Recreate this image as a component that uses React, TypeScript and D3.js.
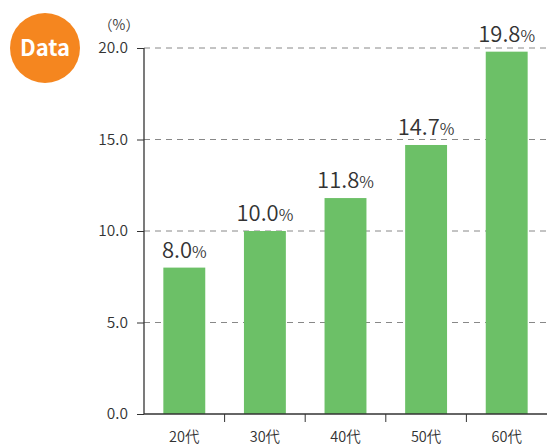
import React, { useRef, useEffect } from "react";
import * as d3 from "d3";

const categories = ["20代", "30代", "40代", "50代", "60代"];
const values = [8.0, 10.0, 11.8, 14.7, 19.8];
const yTicks = [0, 5, 10, 15, 20];

const barColor = "#6cc067";
const textColor = "#333";
const font = "'Noto Sans CJK JP', 'Noto Sans', sans-serif";
const weight = 350;

const App: React.FC = () => {
  const ref = useRef<SVGSVGElement | null>(null);

  useEffect(() => {
    if (!ref.current) return;
    const width = 547;
    const height = 448;
    const margin = { left: 144, right: 0, top: 48, bottom: 34 };

    const svg = d3.select(ref.current);
    svg.selectAll("*").remove();

    const x = d3
      .scaleBand<string>()
      .domain(categories)
      .range([margin.left, width - margin.right])
      .paddingInner(0.48)
      .paddingOuter(0.24);
    const y = d3.scaleLinear().domain([0, 20]).range([height - margin.bottom, margin.top]);

    // badge
    const badge = svg.append("g");
    badge.append("circle").attr("cx", 45).attr("cy", 48).attr("r", 35).attr("fill", "#f5861f");
    badge
      .append("text")
      .attr("x", 45)
      .attr("y", 48)
      .attr("dy", "0.36em")
      .attr("text-anchor", "middle")
      .attr("fill", "#fff")
      .attr("font-family", font)
      .attr("font-weight", "bold")
      .attr("font-size", 22)
      .text("Data");

    // gridlines
    svg
      .append("g")
      .selectAll("line")
      .data(yTicks.filter((d) => d > 0))
      .join("line")
      .attr("x1", margin.left)
      .attr("x2", width)
      .attr("y1", (d) => y(d))
      .attr("y2", (d) => y(d))
      .attr("stroke", "#888")
      .attr("stroke-dasharray", "6,5");

    // bars
    svg
      .append("g")
      .selectAll("rect")
      .data(values)
      .join("rect")
      .attr("x", (_, i) => x(categories[i])!)
      .attr("width", x.bandwidth())
      .attr("y", (d) => y(d))
      .attr("height", (d) => y(0) - y(d))
      .attr("fill", barColor);

    // value labels
    const lbl = svg
      .append("g")
      .selectAll("text")
      .data(values)
      .join("text")
      .attr("x", (_, i) => x(categories[i])! + x.bandwidth() / 2)
      .attr("y", (d) => y(d) - 10)
      .attr("text-anchor", "middle")
      .attr("fill", textColor)
      .attr("font-weight", weight)
      .attr("font-family", font);
    lbl.append("tspan").attr("font-size", 22).text((d) => d.toFixed(1));
    lbl.append("tspan").attr("font-size", 16).text("%");

    // y axis
    const yAxis = svg
      .append("g")
      .attr("transform", `translate(${margin.left},0)`)
      .call(
        d3
          .axisLeft(y)
          .tickValues(yTicks)
          .tickSize(7)
          .tickPadding(9)
          .tickFormat((d) => (d as number).toFixed(1))
      );
    yAxis.select(".domain").attr("stroke", "#333").attr("stroke-width", 1.3).attr("d", `M0,${y(20)}V${y(0)}`);
    yAxis.selectAll(".tick line").attr("stroke", "#333");
    yAxis
      .selectAll(".tick text")
      .attr("fill", textColor)
      .attr("font-size", 15.5)
      .attr("font-weight", weight)
      .attr("font-family", font);

    // x axis
    const xAxis = svg
      .append("g")
      .attr("transform", `translate(0,${y(0)})`)
      .call(d3.axisBottom(x).tickSize(0).tickPadding(18));
    xAxis.select(".domain").attr("stroke", "#333").attr("stroke-width", 1.3).attr("d", `M${margin.left},0H${width}`);
    xAxis
      .selectAll(".tick text")
      .attr("fill", textColor)
      .attr("font-size", 14.5)
      .attr("font-weight", weight)
      .attr("font-family", font);
    // category separators
    xAxis
      .append("g")
      .selectAll("line")
      .data(categories.slice(1))
      .join("line")
      .attr("x1", (d) => x(d)! - (x.step() * x.paddingInner()) / 2)
      .attr("x2", (d) => x(d)! - (x.step() * x.paddingInner()) / 2)
      .attr("y1", 0)
      .attr("y2", 8)
      .attr("stroke", "#333");

    // unit
    svg
      .append("text")
      .attr("x", 119)
      .attr("y", 30)
      .attr("text-anchor", "middle")
      .attr("fill", textColor)
      .attr("font-size", 14)
      .attr("font-weight", weight)
      .attr("font-family", font)
      .text("（%）");
  }, []);

  return (
    <svg
      ref={ref}
      width={547}
      height={448}
      style={{ position: "absolute", left: 0, top: 0 }}
    ></svg>
  );
};

export default App;
